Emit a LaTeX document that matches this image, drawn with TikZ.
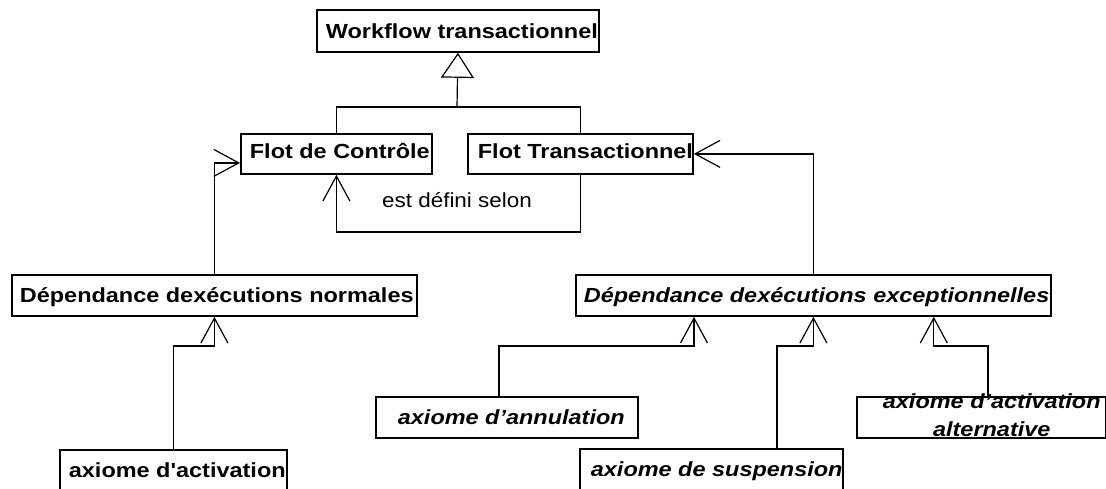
\documentclass[tikz,border=0pt]{standalone}
\usepackage{fontspec}
\usetikzlibrary{arrows.meta}
\newfontfamily\boxfam[FakeStretch=1.15,Ligatures=TeXOff]{Liberation Sans}
\newfontfamily\lblfam[FakeStretch=1.1,Ligatures=TeXOff]{Liberation Sans}
\newcommand\boxtxt[4]{\makebox[#1pt][l]{\hspace*{#2pt}\raisebox{#3pt}[0pt][0pt]{#4}}}
\begin{document}
\begin{tikzpicture}[x=1pt,y=-1pt,
  cls/.style={draw, line width=1.8pt, inner sep=0pt, anchor=north west,
    font=\boxfam\bfseries\fontsize{20.4pt}{28pt}\selectfont},
  abs/.style={cls, font=\boxfam\bfseries\itshape\fontsize{20.4pt}{28pt}\selectfont},
  link/.style={line width=1.2pt},
  dep/.style={link, -{Straight Barb[length=25pt,width=27pt]}},
  gen/.style={link, -{Triangle[open,length=25pt,width=33pt]}},
  lbl/.style={font=\lblfam\fontsize{20.4pt}{28pt}\selectfont, inner sep=0pt, anchor=base}]
\useasboundingbox (0,0) rectangle (1106,488);
\clip (0,0) rectangle (1106,488);

% classes
\node[cls, minimum width=282pt, minimum height=42pt] (wf) at (316,9)
  {\boxtxt{282}{9}{-7.3}{Workflow transactionnel}};
\node[cls, minimum width=191pt, minimum height=40pt] (ctrl) at (240,133)
  {\boxtxt{191}{9}{-5}{Flot de Contrôle}};
\node[cls, minimum width=225pt, minimum height=40pt] (trans) at (467,133)
  {\boxtxt{225}{10}{-5}{Flot Transactionnel}};
\node[cls, minimum width=405pt, minimum height=41pt] (norm) at (11,274)
  {\boxtxt{405}{8}{-7.5}{Dépendance dexécutions normales}};
\node[abs, minimum width=475pt, minimum height=41pt] (exc) at (575,274)
  {\boxtxt{475}{8}{-7.5}{Dépendance dexécutions exceptionnelles}};
\node[cls, minimum width=227pt, minimum height=41pt] (act) at (59,449)
  {\boxtxt{227}{9}{-7}{axiome d'activation}};
\node[abs, minimum width=262pt, minimum height=41pt] (ann) at (375,396)
  {\boxtxt{262}{22}{-7}{axiome d’annulation}};
\node[abs, minimum width=263pt, minimum height=41pt] (susp) at (579,448)
  {\boxtxt{263}{11}{-7}{axiome de suspension}};
\node[abs, minimum width=249pt, minimum height=41pt] (alt) at (856,396)
  {\boxtxt{249}{26}{-19.5}{\begin{tabular}[b]{@{}c@{}}axiome d’activation\\alternative\end{tabular}}};

% helper coordinates
\coordinate (j) at (457,107);
\coordinate (lp) at (0,232);
\coordinate (bar) at (0,346);
\coordinate (t1) at ([xshift=119pt]exc.south west);
\coordinate (t3) at ([xshift=-118pt]exc.south east);
\coordinate (s1) at ([xshift=-8pt]ann.north);
\coordinate (s2) at ([xshift=65.5pt]susp.north);
\coordinate (s3) at ([xshift=6.5pt]alt.north);
\coordinate (c1) at ([yshift=-9pt]ctrl.west);

% generalisation
\draw[link] (ctrl.north) |- (j) -| (trans.north);
\draw[gen] (j) -- (wf.south);

% dependencies
\draw[dep] (norm.north) |- (c1);
\draw[dep] (exc.north) |- (trans.east);
\draw[dep] (trans.south) -- (trans.south |- lp) -| (ctrl.south);
\node[lbl] (lab) at (457,207) {est défini selon};

\draw[dep] (act.north) |- (norm.south |- bar) -- (norm.south);
\draw[dep] (s1) |- (t1 |- bar) -- (t1);
\draw[dep] (s2) |- (exc.south |- bar) -- (exc.south);
\draw[dep] (s3) |- (t3 |- bar) -- (t3);
\end{tikzpicture}
\end{document}
